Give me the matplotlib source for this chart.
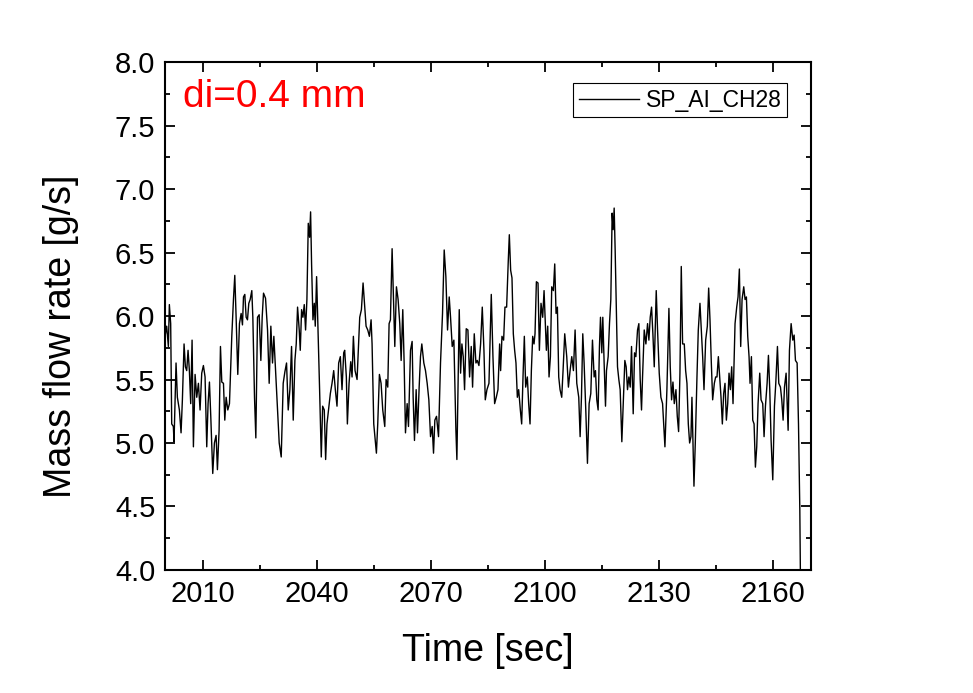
import matplotlib
matplotlib.use("Agg")
import matplotlib.pyplot as plt
import numpy as np
from matplotlib.ticker import MultipleLocator

# data (time in sec, mass flow in g/s)
t1 = [2000.00, 2000.44, 2000.88, 2001.14, 2001.49, 2001.76, 2002.19, 2002.37, 2002.90, 2003.25,
      2003.78, 2004.22, 2004.57, 2005.01, 2005.36, 2005.71, 2006.06, 2006.41, 2006.76, 2007.12,
      2007.47, 2007.91, 2008.35, 2008.79, 2009.22, 2009.66, 2010.10, 2010.54, 2010.98, 2011.33,
      2011.69, 2012.04, 2012.56, 2013.00, 2013.44, 2013.79, 2014.23, 2014.59, 2014.94, 2015.38,
      2015.73, 2016.08, 2016.52, 2016.96, 2017.57, 2018.01, 2018.36, 2018.71, 2019.15, 2019.59,
      2020.03, 2020.38, 2020.65, 2021.00, 2021.35, 2021.70, 2022.05, 2022.41, 2022.84, 2023.11,
      2023.55, 2023.90, 2024.34, 2024.78, 2025.22, 2025.57, 2025.92, 2026.45, 2026.98, 2027.41,
      2027.85, 2028.29, 2028.64, 2028.99, 2029.44, 2030.05, 2030.58, 2031.10, 2031.54, 2031.98,
      2032.42, 2032.86, 2033.30, 2033.74, 2034.18, 2034.53, 2034.88, 2035.32, 2035.59, 2035.94,
      2036.29, 2036.64, 2036.99, 2037.34, 2037.70, 2038.05, 2038.31, 2038.57, 2038.93, 2039.28,
      2039.54, 2039.89, 2040.24, 2040.68, 2041.12, 2041.48, 2041.91, 2042.27, 2042.62]
m1 = [5.84, 5.92, 5.76, 6.09, 5.94, 5.15, 5.13, 5.01, 5.63, 5.36,
      5.26, 5.08, 5.34, 5.78, 5.60, 5.57, 5.73, 5.57, 5.31, 5.81,
      4.97, 5.54, 5.36, 5.47, 5.26, 5.55, 5.61, 5.52, 4.97, 5.31,
      5.48, 5.21, 4.76, 5.00, 5.06, 4.79, 5.10, 5.76, 5.48, 5.47,
      5.18, 5.36, 5.26, 5.31, 5.84, 6.13, 6.32, 5.99, 5.54, 5.94,
      6.02, 5.93, 6.15, 6.17, 5.99, 5.97, 6.10, 6.13, 6.20, 5.99,
      5.36, 5.04, 5.99, 6.01, 5.65, 5.99, 6.18, 6.14, 5.89, 5.47,
      5.92, 5.63, 5.84, 5.63, 5.36, 5.00, 4.89, 5.47, 5.56, 5.63,
      5.26, 5.42, 5.76, 5.18, 5.65, 5.78, 6.07, 5.89, 5.73, 6.05,
      5.99, 6.09, 5.89, 6.13, 6.73, 6.62, 6.82, 6.41, 5.97, 6.10,
      5.92, 6.31, 5.92, 5.42, 4.89, 5.29, 5.26, 4.87, 5.15]

t2 = [2043.51, 2043.95, 2044.39, 2044.82, 2045.26, 2045.70, 2046.14, 2046.58, 2047.02, 2047.28,
      2047.72, 2047.99, 2048.43, 2048.87, 2049.22, 2049.57, 2050.01, 2050.54, 2051.24, 2051.68,
      2052.12, 2052.56, 2052.91, 2053.35, 2053.79, 2054.23, 2054.49, 2054.93, 2055.63, 2055.98,
      2056.42, 2056.86, 2057.30, 2057.83, 2058.18, 2058.62, 2058.97, 2059.32, 2059.76, 2060.11,
      2060.47, 2060.90, 2061.34, 2061.78, 2062.14, 2062.57, 2062.93, 2063.28, 2063.72, 2064.07,
      2064.60, 2065.03, 2065.30, 2065.65, 2066.09, 2066.44, 2066.88, 2067.23, 2067.58, 2068.11,
      2068.55, 2068.99, 2069.43, 2069.87, 2070.31, 2070.66, 2071.01, 2071.45, 2071.98, 2072.50,
      2073.03, 2073.47, 2073.91, 2074.35, 2074.79, 2075.14, 2075.58, 2076.02, 2076.55, 2076.81,
      2077.16, 2077.43, 2077.78, 2078.13, 2078.48, 2078.83, 2079.27, 2079.71, 2080.15, 2080.59,
      2080.94, 2081.38, 2081.82, 2082.17, 2082.61, 2083.05, 2083.49, 2083.93, 2084.28, 2084.72]
m2 = [5.39, 5.47, 5.57, 5.42, 5.29, 5.63, 5.68, 5.42, 5.71, 5.73,
      5.52, 5.15, 5.47, 5.64, 5.52, 5.84, 5.57, 5.50, 5.99, 6.05,
      6.26, 6.07, 5.92, 5.89, 5.84, 5.97, 5.78, 5.15, 4.92, 5.15,
      5.54, 5.47, 5.26, 5.13, 5.50, 5.44, 5.94, 5.97, 6.53, 6.15,
      5.76, 6.23, 6.13, 5.94, 5.65, 6.05, 5.63, 5.08, 5.31, 5.13,
      5.73, 5.80, 5.36, 5.02, 5.42, 5.08, 5.44, 5.68, 5.78, 5.63,
      5.57, 5.47, 5.34, 5.05, 5.13, 4.92, 5.18, 5.21, 5.05, 5.63,
      6.02, 6.52, 6.31, 5.89, 6.15, 5.99, 5.76, 5.81, 5.10, 4.87,
      5.52, 6.05, 5.55, 5.78, 5.68, 5.42, 5.90, 5.89, 5.52, 5.76,
      5.44, 5.86, 5.63, 5.65, 5.61, 5.78, 6.07, 5.73, 5.34, 5.42]

t3 = [2085.25, 2085.86, 2086.30, 2086.74, 2087.18, 2087.62, 2088.06, 2088.32, 2088.67, 2089.11,
      2089.46, 2089.90, 2090.34, 2090.61, 2090.96, 2091.31, 2091.66, 2092.01, 2092.36, 2092.72,
      2093.07, 2093.51, 2093.86, 2094.21, 2094.56, 2094.91, 2095.35, 2095.70, 2096.06, 2096.41,
      2096.76, 2097.11, 2097.37, 2097.73, 2098.16, 2098.52, 2098.95, 2099.39, 2099.75, 2100.10,
      2100.36, 2100.71, 2101.06, 2101.42, 2101.77, 2102.21, 2102.56, 2102.91, 2103.26, 2103.61,
      2103.96, 2104.40, 2104.75, 2105.19, 2105.72, 2106.16, 2106.60, 2107.04, 2107.48, 2107.92,
      2108.36, 2108.88, 2109.24, 2109.59, 2109.94, 2110.29, 2110.73, 2111.17, 2111.61, 2112.05,
      2112.49, 2112.93, 2113.28, 2113.63, 2113.98, 2114.33, 2114.60, 2114.95, 2115.21, 2115.56,
      2115.92, 2116.18, 2116.62, 2116.97, 2117.32, 2117.67, 2117.94, 2118.20, 2118.46, 2118.73,
      2119.08, 2119.43, 2119.78, 2120.22, 2120.66, 2121.01, 2121.36, 2121.71, 2122.07, 2122.42,
      2122.77, 2123.21, 2123.56, 2123.91, 2124.35, 2124.70, 2125.05, 2125.40]
m3 = [5.47, 6.17, 5.68, 5.31, 5.36, 5.42, 5.78, 5.57, 5.84, 5.81,
      6.07, 6.07, 6.44, 6.64, 6.36, 6.30, 5.86, 5.73, 5.63, 5.36,
      5.42, 5.26, 5.15, 5.52, 5.84, 5.44, 5.52, 5.31, 5.15, 5.57,
      5.84, 5.78, 5.86, 6.27, 6.26, 5.73, 6.10, 5.99, 6.20, 5.94,
      5.73, 5.92, 5.52, 5.68, 6.23, 6.20, 6.41, 6.02, 6.07, 5.52,
      5.42, 5.36, 5.57, 5.86, 5.68, 5.44, 5.57, 5.68, 5.57, 5.89,
      5.47, 5.36, 5.05, 5.36, 5.86, 5.63, 5.26, 4.84, 5.31, 5.39,
      5.81, 5.52, 5.57, 5.34, 5.26, 5.76, 5.99, 5.71, 5.99, 5.63,
      5.29, 5.57, 5.68, 5.94, 6.13, 6.81, 6.68, 6.85, 6.52, 6.10,
      5.60, 5.50, 5.42, 5.01, 5.36, 5.65, 5.60, 5.42, 5.52, 5.44,
      5.76, 5.23, 5.71, 5.68, 5.89, 5.94, 5.50, 5.26]

t4 = [2125.67, 2126.11, 2126.55, 2126.99, 2127.34, 2127.69, 2128.04, 2128.39, 2128.75, 2129.27,
      2129.62, 2130.06, 2130.50, 2130.94, 2131.56, 2132.08, 2132.61, 2132.96, 2133.31, 2133.67,
      2134.02, 2134.46, 2134.81, 2135.16, 2135.51, 2135.86, 2136.21, 2136.65, 2137.01, 2137.36,
      2137.71, 2138.06, 2138.41, 2138.67, 2139.20, 2139.55, 2139.99, 2140.34, 2140.78, 2141.13,
      2141.49, 2141.84, 2142.28, 2142.72, 2143.07, 2143.42, 2143.77, 2144.12, 2144.56, 2144.91,
      2145.26, 2145.62, 2145.97, 2146.32, 2146.67, 2147.02, 2147.37, 2147.73, 2148.08, 2148.43,
      2148.78, 2149.13, 2149.48, 2150.01, 2150.45, 2150.80, 2151.15, 2151.50, 2151.86, 2152.30,
      2152.65, 2153.00, 2153.35, 2153.70, 2153.96, 2154.32, 2154.67, 2155.02, 2155.37, 2155.72,
      2156.07, 2156.51, 2156.86, 2157.30, 2157.65, 2158.01, 2158.45, 2158.80, 2159.15, 2159.50,
      2159.94, 2160.38, 2160.73, 2161.17, 2161.52, 2161.96, 2162.31, 2162.66, 2163.02, 2163.45,
      2163.98, 2164.33, 2164.77, 2165.21, 2165.56, 2165.91, 2166.35, 2166.71, 2167.06, 2167.23]
m4 = [5.52, 5.89, 5.78, 5.94, 5.81, 5.99, 6.07, 5.86, 5.60, 6.20,
      5.89, 5.55, 5.36, 5.31, 4.97, 5.42, 6.06, 5.60, 5.34, 5.48,
      5.31, 5.42, 5.21, 5.09, 5.55, 6.39, 5.78, 5.78, 5.57, 5.47,
      5.15, 5.00, 5.05, 5.36, 4.66, 5.00, 5.52, 5.89, 6.10, 5.89,
      5.68, 5.42, 5.81, 5.92, 6.22, 5.97, 5.63, 5.34, 5.47, 5.52,
      5.52, 5.68, 5.52, 5.36, 5.15, 5.39, 5.47, 5.18, 5.31, 5.55,
      5.42, 5.60, 5.31, 5.94, 6.07, 6.15, 6.37, 5.76, 6.13, 6.23,
      6.13, 6.15, 5.84, 5.68, 5.47, 5.68, 5.18, 5.15, 4.81, 4.97,
      5.31, 5.55, 5.34, 5.31, 5.05, 5.29, 5.47, 5.69, 5.42, 5.02,
      4.71, 5.29, 5.47, 5.76, 5.47, 5.44, 5.34, 5.18, 5.44, 5.55,
      5.10, 5.73, 5.94, 5.81, 5.85, 5.65, 5.63, 5.15, 4.47, 3.90]

time = np.concatenate([t1, t2, t3, t4])
flow = np.concatenate([m1, m2, m3, m4])

plt.rcParams['font.family'] = ['Liberation Sans', 'DejaVu Sans']

fig = plt.figure(figsize=(9.73, 6.93), dpi=100)
ax = fig.add_axes([0.1696, 0.1775, 0.6639, 0.7330])

ax.plot(time, flow, color="black", linewidth=1.0, label="SP_AI_CH28")

ax.set_xlim(2000, 2170)
ax.set_ylim(4.0, 8.0)
ax.xaxis.set_major_locator(MultipleLocator(30))
ax.xaxis.set_minor_locator(MultipleLocator(15))
ax.yaxis.set_major_locator(MultipleLocator(0.5))
ax.yaxis.set_minor_locator(MultipleLocator(0.25))
ax.yaxis.set_major_formatter(matplotlib.ticker.FormatStrFormatter("%.1f"))

ax.tick_params(which="both", direction="in", top=True, right=True, width=1.3)
ax.tick_params(which="major", length=7, labelsize=21, pad=7)
ax.tick_params(which="minor", length=3.5)
for s in ax.spines.values():
    s.set_linewidth(1.5)

ax.set_xlabel("Time [sec]", fontsize=27, va="top")
ax.set_ylabel("Mass flow rate [g/s]", fontsize=27)
ax.xaxis.set_label_coords(0.499, -0.124)
ax.yaxis.set_label_coords(-0.133, 0.46)

ax.text(0.028, 0.931, "di=0.4 mm", color="red", fontsize=28,
        transform=ax.transAxes, ha="left", va="center")

leg = ax.legend(loc="upper right", bbox_to_anchor=(0.963, 0.959), borderaxespad=0,
                fontsize=16.5, handlelength=2.6, handletextpad=0.3, borderpad=0.25,
                fancybox=False, framealpha=1)
leg.get_frame().set_edgecolor("black")
leg.get_frame().set_linewidth(0.8)

fig.savefig("out.png", dpi=100)
